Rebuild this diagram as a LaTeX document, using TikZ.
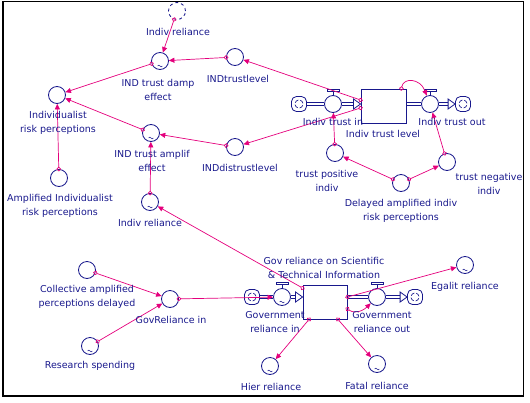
\documentclass[tikz,border=0pt]{standalone}
\usepackage{fontspec}
\setmainfont{DejaVu Sans}
\usetikzlibrary{arrows.meta,calc}
\definecolor{navy}{RGB}{24,24,140}
\definecolor{mag}{RGB}{228,0,124}
\tikzset{
 aux/.style={circle,draw=navy,line width=0.8pt,minimum size=17pt,inner sep=0pt,fill=white},
 valve/.style={aux},
 ghost/.style={aux,dashed},
 stockbox/.style={draw=navy,line width=0.9pt,fill=white,inner sep=0pt},
 cloudbox/.style={draw=navy,line width=0.8pt,rounded corners=5pt,minimum size=15pt,inner sep=0pt,fill=white},
 lbl/.style={text=navy,font=\fontsize{9.5}{14}\selectfont,align=center,inner sep=0pt},
 conn/.style={draw=mag,line width=0.7pt,shorten <=-2.2pt,{Circle[open,length=4.5pt,width=4.5pt,line width=0.7pt]}-{Triangle[length=5.5pt,width=5pt]}},
 pipeline/.style={draw=navy,line width=0.8pt},
 headtri/.style={draw=navy,line width=0.8pt,fill=white},
}
\newcommand\pipe[2]{%
 \draw[pipeline] ($(#1)+(0,-1.5)$) -- ($(#2)+(0,-1.5)$);
 \draw[pipeline] ($(#1)+(0,1.5)$) -- ($(#2)+(0,1.5)$);
}
\newcommand\valvetop[1]{%
 \draw[navy,line width=0.7pt] (#1.north) -- ++(0,-3.5);
 \draw[navy,line width=0.7pt,fill=white] ([shift={(-6,-3.5)}]#1.north) rectangle ([shift={(6,-6)}]#1.north);
}
\newcommand\cloudmarks[1]{%
 \foreach \a in {0,90,180,270} \draw[navy,line width=0.7pt] ([shift={(\a+20:4)}]#1.center) arc[start angle=\a+20, end angle=\a+80, radius=4];
}
\newcommand\tildemark[1]{\draw[navy,line width=0.5pt] ([shift={(-2.4,5)}]#1.center) sin ++(1.2,-0.9) cos ++(1.2,0.9) sin ++(1.2,0.9) cos ++(1.2,-0.9);}
\begin{document}
\begin{tikzpicture}[x=1pt,y=-1pt]
\useasboundingbox (0,0) rectangle (530,402);
\draw[black,line width=1.3pt] (3,1.5) rectangle (523.5,396);

% top nodes
\node[ghost] (ghost) at (177,11) {};
\node[aux] (damp) at (160,61) {};
\node[aux] (tlev) at (235,57) {};
\node[aux] (indiv) at (57,95) {};
\node[aux] (amp) at (151,133) {};
\node[aux] (dlev) at (235,147) {};
\node[aux] (ampind) at (59,178) {};
\node[aux] (rel2) at (150,202) {};
\node[cloudbox] (cl1) at (299,104) {};
\node[valve] (vin) at (333,104) {};
\node[stockbox,minimum width=45pt,minimum height=34pt] (st1) at (383.5,106) {};
\node[valve] (vout) at (430,104) {};
\node[cloudbox] (cl2) at (463,104) {};
\node[aux] (tpos) at (335,153) {};
\node[aux] (delay) at (401,183) {};
\node[aux] (tneg) at (447,162) {};

% bottom nodes
\node[aux] (coll) at (87,270) {};
\node[aux] (govin) at (170,299) {};
\node[aux] (res) at (90,346) {};
\node[cloudbox] (cl3) at (252,297) {};
\node[valve] (gvin) at (282,297) {};
\node[stockbox,minimum width=44pt,minimum height=34pt] (st2) at (325,302) {};
\node[valve] (gvout) at (377,297) {};
\node[cloudbox] (cl4) at (415,297) {};
\node[aux] (egal) at (465,265) {};
\node[aux] (hier) at (270,366) {};
\node[aux] (fatal) at (377,364) {};

% pipes
\coordinate (p1a) at ($(st1.west |- vin.center)+(-7,0)$);
\coordinate (p1b) at (st1.east |- vout.center);
\coordinate (p1c) at ($(cl2.west)+(-7,0)$);
\pipe{cl1.east}{vin.west}
\pipe{vin.east}{p1a}
\draw[headtri] (st1.west |- vin.center) -- ++(-7,-5) -- ++(0,10) -- cycle;
\pipe{p1b}{vout.west}
\pipe{vout.east}{p1c}
\draw[headtri] (cl2.west) -- ++(-7,-5) -- ++(0,10) -- cycle;

\coordinate (p2a) at ($(st2.west |- gvin.center)+(-7,0)$);
\coordinate (p2b) at (st2.east |- gvout.center);
\coordinate (p2c) at ($(cl4.west)+(-7,0)$);
\pipe{cl3.east}{gvin.west}
\pipe{gvin.east}{p2a}
\draw[headtri] (st2.west |- gvin.center) -- ++(-7,-5) -- ++(0,10) -- cycle;
\pipe{p2b}{gvout.west}
\pipe{gvout.east}{p2c}
\draw[headtri] (cl4.west) -- ++(-7,-5) -- ++(0,10) -- cycle;

\valvetop{vin}\valvetop{vout}\valvetop{gvin}\valvetop{gvout}
\cloudmarks{cl1}\cloudmarks{cl2}\cloudmarks{cl3}\cloudmarks{cl4}
\tildemark{damp}\tildemark{amp}\tildemark{rel2}\tildemark{res}
\tildemark{hier}\tildemark{fatal}\tildemark{egal}\tildemark{gvin}

% connectors top
\draw[conn] (ghost) -- (damp);
\draw[conn] (tlev) -- (damp);
\draw[conn] (damp) -- (indiv);
\draw[conn] (amp) -- (indiv);
\draw[conn] (dlev) -- (amp);
\draw[conn] (ampind) -- (indiv);
\draw[conn] (rel2) -- (amp);
\draw[conn] ($(st1.west)+(0,-6)$) -- (tlev);
\draw[conn] ($(st1.west)+(0,2)$) -- (dlev);
\draw[conn] (tpos) -- (vin);
\draw[conn] (delay) -- (tpos);
\draw[conn] (delay) -- (tneg);
\draw[conn] (tneg) -- (vout);
\draw[conn] ($(st1.north east)+(-5,0)$) .. controls ($(st1.north east)+(-3,-11)$) and ($(vout.center)+(-10,-26)$) .. (vout);

% connectors bottom
\draw[conn] (coll) -- (govin);
\draw[conn] (res) -- (govin);
\draw[conn] (govin) -- (gvin);
\draw[conn] ($(st2.west)+(0,-14)$) -- (rel2);
\draw[conn] ($(st2.east)+(0,-5)$) -- (egal);
\draw[conn] ($(st2.east)+(0,7)$) .. controls ($(st2.east)+(9,13)$) and ($(gvout.center)+(-12,12)$) .. (gvout);
\draw[conn] ($(st2.south)+(-16,0)$) -- (hier);
\draw[conn] ($(st2.south)+(13,0)$) -- (fatal);

% labels
\node[lbl] (l-ghost) at (178,32) {Indiv reliance};
\node[lbl] (l-damp) at (158,90) {IND trust damp\\effect};
\node[lbl] (l-tlev) at (238,79) {INDtrustlevel};
\node[lbl] (l-indiv) at (58,123) {Individualist\\risk perceptions};
\node[lbl] (l-amp) at (152,161) {IND trust amplif\\effect};
\node[lbl] (l-dlev) at (240,168) {INDdistrustlevel};
\node[lbl] (l-ampind) at (60,206) {Amplified Individualist\\risk perceptions};
\node[lbl] (l-rel2) at (150,223) {Indiv reliance};
\node[lbl] (l-vin) at (333,122) {Indiv trust in};
\node[lbl] (l-st1) at (383,134) {Indiv trust level};
\node[lbl] (l-vout) at (452,122) {Indiv trust out};
\node[lbl] (l-tpos) at (327,181) {trust positive\\indiv};
\node[lbl] (l-delay) at (401,211) {Delayed amplified indiv\\risk perceptions};
\node[lbl] (l-tneg) at (489,184) {trust negative\\indiv};
\node[lbl] (l-coll) at (87,297) {Collective amplified\\perceptions delayed};
\node[lbl] (l-govin) at (171,320) {GovReliance in};
\node[lbl] (l-res) at (90,366) {Research spending};
\node[lbl] (l-st2) at (324,267.5) {Gov reliance on Scientific\\\& Technical Information};
\node[lbl] (l-gvin) at (275,322) {Government\\reliance in};
\node[lbl] (l-gvout) at (382,322) {Government\\reliance out};
\node[lbl] (l-egal) at (465,287) {Egalit reliance};
\node[lbl] (l-hier) at (271,387) {Hier reliance};
\node[lbl] (l-fatal) at (377,386) {Fatal reliance};
\end{tikzpicture}
\end{document}
